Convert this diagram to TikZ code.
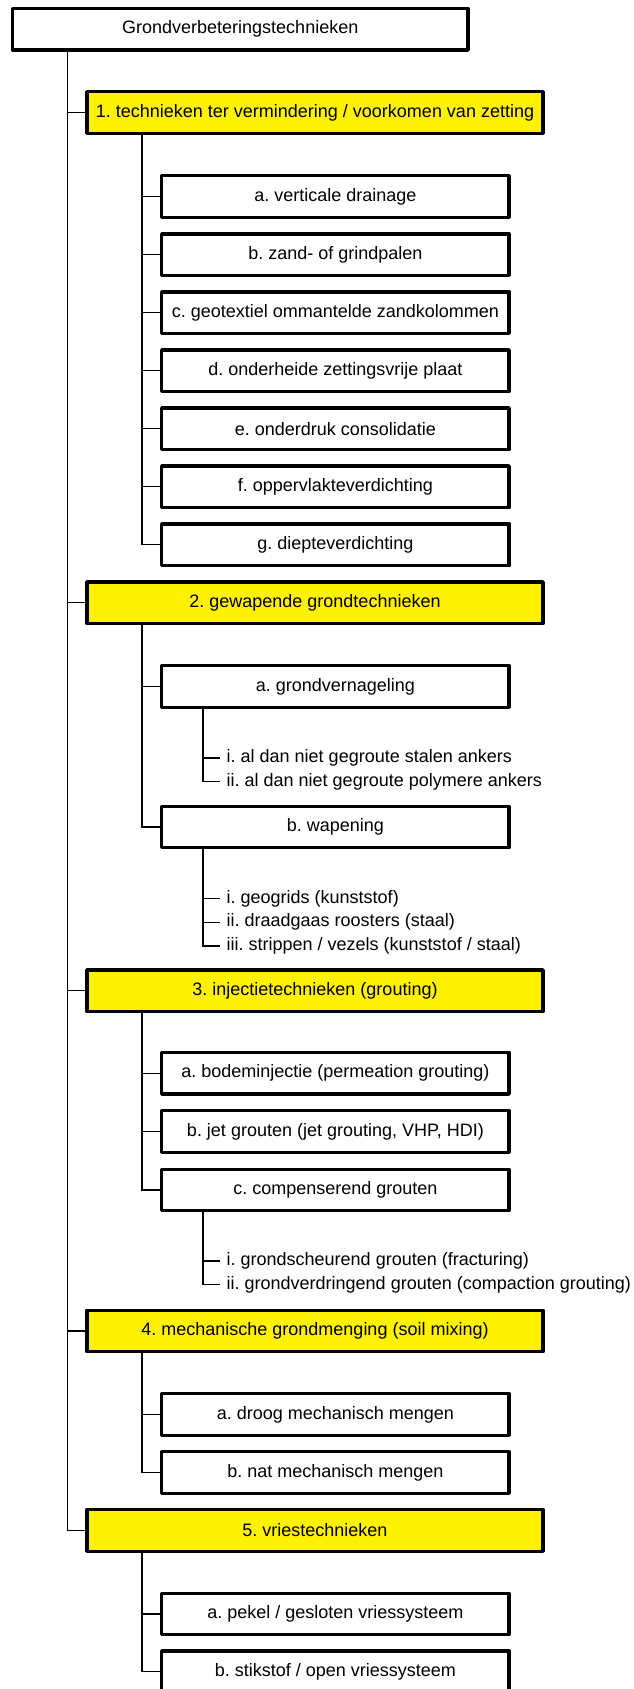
\documentclass[tikz,border=0pt]{standalone}
\usepackage{fontspec}
\setmainfont{Liberation Sans}
\frenchspacing
\tikzset{
  box/.style={draw=black, line width=3.4pt, line join=round, fill=white, inner sep=0pt,
    minimum height=41.5pt, font=\fontsize{18}{21}\selectfont\frenchspacing},
  rootbox/.style={box, minimum width=455.5pt},
  mainbox/.style={box, fill=yellow, minimum width=456pt},
  childbox/.style={box, minimum width=347.3pt},
  subitem/.style={anchor=west, inner xsep=6.5pt, inner ysep=0pt, font=\fontsize{18}{21}\selectfont\frenchspacing},
  link/.style={draw=black, line width=1.3pt}
}
\begin{document}
\begin{tikzpicture}[x=1pt, y=-1pt]
\useasboundingbox (0,0) rectangle (634,1689);
% root
\node[rootbox] (root) at (240.25,29.3) {Grondverbeteringstechnieken};
\coordinate (mx) at (67.5,0);
% level 1
\node[mainbox] (y1) at (315,112.5) {1. technieken ter vermindering / voorkomen van zetting};
\node[mainbox] (y2) at (315,602.7) {2. gewapende grondtechnieken};
\node[mainbox] (y3) at (315,990.7) {3. injectietechnieken (grouting)};
\node[mainbox] (y4) at (315,1331) {4. mechanische grondmenging (soil mixing)};
\node[mainbox] (y5) at (315,1530.5) {5. vriestechnieken};
\coordinate (cx) at (142,0);
\coordinate (sx) at (203,0);
% group 1
\node[childbox] (c1a) at (335.4,196.5) {a. verticale drainage};
\node[childbox] (c1b) at (335.4,254.55) {b. zand- of grindpalen};
\node[childbox] (c1c) at (335.4,312.6) {c. geotextiel ommantelde zandkolommen};
\node[childbox] (c1d) at (335.4,370.65) {d. onderheide zettingsvrije plaat};
\node[childbox] (c1e) at (335.4,428.7) {e. onderdruk consolidatie};
\node[childbox] (c1f) at (335.4,486.75) {f. oppervlakteverdichting};
\node[childbox] (c1g) at (335.4,544.8) {g. diepteverdichting};
% group 2
\node[childbox] (c2a) at (335.4,686.5) {a. grondvernageling};
\node[subitem] (s2a1) at (220,758) {i. al dan niet gegroute stalen ankers};
\node[subitem] (s2a2) at (220,781.7) {ii. al dan niet gegroute polymere ankers};
\node[childbox] (c2b) at (335.4,827) {b. wapening};
\node[subitem] (s2b1) at (220,898.5) {i. geogrids (kunststof)};
\node[subitem] (s2b2) at (220,922.2) {ii. draadgaas roosters (staal)};
\node[subitem] (s2b3) at (220,945.9) {iii. strippen / vezels (kunststof / staal)};
% group 3
\node[childbox] (c3a) at (335.4,1073.3) {a. bodeminjectie (permeation grouting)};
\node[childbox] (c3b) at (335.4,1131.5) {b. jet grouten (jet grouting, VHP, HDI)};
\node[childbox] (c3c) at (335.4,1190) {c. compenserend grouten};
\node[subitem] (s3c1) at (220,1261) {i. grondscheurend grouten (fracturing)};
\node[subitem] (s3c2) at (220,1284.5) {ii. grondverdringend grouten (compaction grouting)};
% group 4
\node[childbox] (c4a) at (335.4,1414.5) {a. droog mechanisch mengen};
\node[childbox] (c4b) at (335.4,1472.5) {b. nat mechanisch mengen};
% group 5
\node[childbox] (c5a) at (335.4,1614) {a. pekel / gesloten vriessysteem};
\node[childbox] (c5b) at (335.4,1671.8) {b. stikstof / open vriessysteem};

% main connectors
\draw[link] (root.south -| mx) |- (y5.west);
\foreach \n in {y1,y2,y3,y4} \draw[link] (\n.west -| mx) -- (\n.west);
% group 1
\draw[link] (y1.south -| cx) |- (c1g.west);
\foreach \n in {c1a,c1b,c1c,c1d,c1e,c1f} \draw[link] (\n.west -| cx) -- (\n.west);
% group 2
\draw[link] (y2.south -| cx) |- (c2b.west);
\draw[link] (c2a.west -| cx) -- (c2a.west);
\draw[link] (c2a.south -| sx) |- (s2a2.west);
\draw[link] (s2a1.west -| sx) -- (s2a1.west);
\draw[link] (c2b.south -| sx) |- (s2b3.west);
\foreach \n in {s2b1,s2b2} \draw[link] (\n.west -| sx) -- (\n.west);
% group 3
\draw[link] (y3.south -| cx) |- (c3c.west);
\foreach \n in {c3a,c3b} \draw[link] (\n.west -| cx) -- (\n.west);
\draw[link] (c3c.south -| sx) |- (s3c2.west);
\draw[link] (s3c1.west -| sx) -- (s3c1.west);
% group 4
\draw[link] (y4.south -| cx) |- (c4b.west);
\draw[link] (c4a.west -| cx) -- (c4a.west);
% group 5
\draw[link] (y5.south -| cx) |- (c5b.west);
\draw[link] (c5a.west -| cx) -- (c5a.west);
\end{tikzpicture}
\end{document}
